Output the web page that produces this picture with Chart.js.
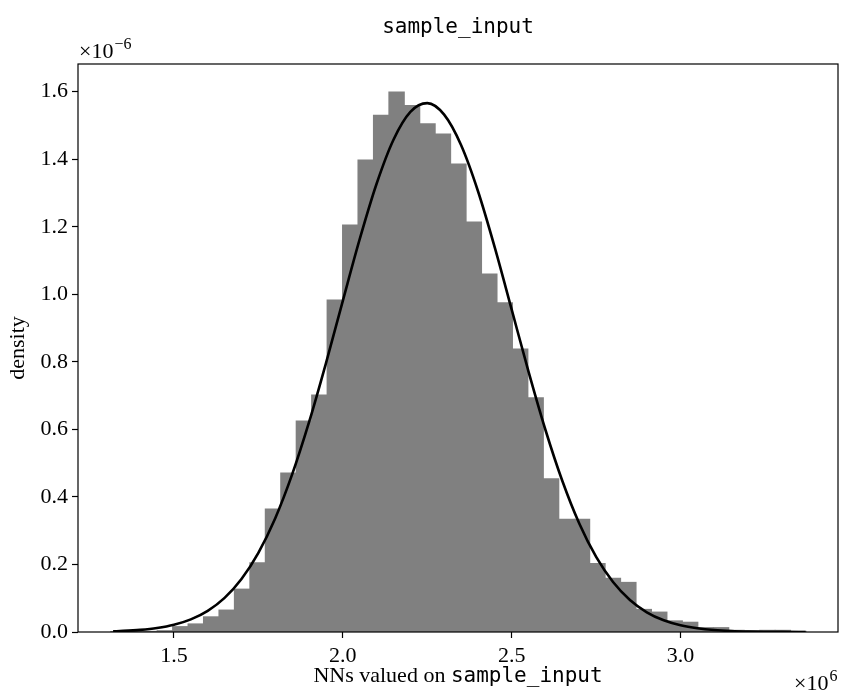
<!DOCTYPE html>
<html lang="en">
  <head>
    <meta charset="UTF-8" />
    <title>sample_input</title>
    <script src="https://cdn.jsdelivr.net/npm/chart.js"></script>
    <style>
      * {
        margin: 0;
        padding: 0;
        box-sizing: border-box;
      }

      body {
        background: #fff;
      }

      canvas {
        display: block;
      }
    </style>
  </head>
  <body>
    <canvas id="histChart" width="842" height="695"></canvas>

    <script>
      // histogram bins (x in units of 1e6, density in units of 1e-6)
      const binCenters = [
        1.3359, 1.3816, 1.4274, 1.4731, 1.5189, 1.5646, 1.6103, 1.6561, 1.7018,
        1.7476, 1.7933, 1.839, 1.8848, 1.9305, 1.9763, 2.022, 2.0677, 2.1135,
        2.1592, 2.205, 2.2507, 2.2964, 2.3422, 2.3879, 2.4337, 2.4794, 2.5251,
        2.5709, 2.6166, 2.6624, 2.7081, 2.7538, 2.7996, 2.8453, 2.8911, 2.9368,
        2.9825, 3.0283, 3.074, 3.1198, 3.1655, 3.2112, 3.257, 3.3027, 3.3485,
      ];
      const binDensity = [
        0.001, 0.001, 0.002, 0.004, 0.016, 0.024, 0.045, 0.065, 0.127, 0.205,
        0.364, 0.471, 0.625, 0.702, 0.983, 1.205, 1.398, 1.53, 1.599, 1.559,
        1.505, 1.475, 1.386, 1.214, 1.06, 0.975, 0.838, 0.694, 0.454, 0.334,
        0.334, 0.203, 0.159, 0.147, 0.067, 0.059, 0.033, 0.029, 0.013, 0.013,
        0.005, 0.004, 0.005, 0.005, 0.002,
      ];

      // fitted normal density
      const fitX = [
        1.32, 1.35, 1.4, 1.45, 1.5, 1.55, 1.6, 1.65, 1.7, 1.75, 1.8, 1.85, 1.9,
        1.95, 2.0, 2.05, 2.1, 2.15, 2.2, 2.25, 2.3, 2.35, 2.4, 2.45, 2.5, 2.55,
        2.6, 2.65, 2.7, 2.75, 2.8, 2.85, 2.9, 2.95, 3.0, 3.05, 3.1, 3.15, 3.2,
        3.25, 3.3, 3.35, 3.37,
      ];
      const fitY = [
        0.0021, 0.0032, 0.0063, 0.0118, 0.0214, 0.0374, 0.0627, 0.1011, 0.157,
        0.2346, 0.337, 0.4667, 0.6213, 0.7957, 0.9808, 1.1632, 1.3273, 1.4577,
        1.5401, 1.566, 1.5319, 1.442, 1.306, 1.1383, 0.9546, 0.7703, 0.5982,
        0.447, 0.3212, 0.2222, 0.148, 0.0948, 0.0584, 0.0346, 0.0198, 0.0109,
        0.0057, 0.0029, 0.0014, 0.0007, 0.0003, 0.0001, 0.0001,
      ];

      const xTicks = [1.5, 2.0, 2.5, 3.0];
      const yTicks = [0, 0.2, 0.4, 0.6, 0.8, 1.0, 1.2, 1.4, 1.6];

      const serif = '"Liberation Serif", serif';
      const mono = '"DejaVu Sans Mono", monospace';

      // frame, title, axis labels and offset text
      const decorations = {
        id: "decorations",
        afterDatasetsDraw(chart) {
          const { ctx, chartArea: a } = chart;
          const cx = (a.left + a.right) / 2;
          ctx.save();
          ctx.strokeStyle = "#000";
          ctx.lineWidth = 1.2;
          ctx.strokeRect(a.left, a.top, a.right - a.left, a.bottom - a.top);

          ctx.fillStyle = "#000";
          ctx.textBaseline = "alphabetic";

          ctx.font = "21px " + mono;
          ctx.textAlign = "center";
          ctx.fillText("sample_input", cx, 33);

          // x label: roman text followed by typewriter name
          const pre = "NNs valued on ";
          const name = "sample_input";
          ctx.font = "22px " + serif;
          const w1 = ctx.measureText(pre).width;
          ctx.font = "21px " + mono;
          const w2 = ctx.measureText(name).width;
          let x0 = cx - (w1 + w2) / 2;
          ctx.textAlign = "left";
          ctx.font = "22px " + serif;
          ctx.fillText(pre, x0, 682);
          ctx.font = "21px " + mono;
          ctx.fillText(name, x0 + w1, 682);

          // y label
          ctx.save();
          ctx.translate(24, (a.top + a.bottom) / 2);
          ctx.rotate(-Math.PI / 2);
          ctx.textAlign = "center";
          ctx.font = "22px " + serif;
          ctx.fillText("density", 0, 0);
          ctx.restore();

          // offset text
          ctx.textAlign = "left";
          ctx.font = "22px " + serif;
          ctx.fillText("\u00d710", 79, 58);
          let w = ctx.measureText("\u00d710").width;
          ctx.font = "16px " + serif;
          ctx.fillText("\u22126", 79 + w + 1, 49);

          ctx.font = "22px " + serif;
          ctx.fillText("\u00d710", 794, 690);
          w = ctx.measureText("\u00d710").width;
          ctx.font = "16px " + serif;
          ctx.fillText("6", 794 + w + 1, 681);
          ctx.restore();
        },
      };

      const ctx = document.getElementById("histChart").getContext("2d");
      new Chart(ctx, {
        type: "bar",
        data: {
          datasets: [
            {
              type: "line",
              data: fitX.map((x, i) => ({ x: x, y: fitY[i] })),
              borderColor: "#000",
              borderWidth: 2.6,
              pointRadius: 0,
              cubicInterpolationMode: "monotone",
              fill: false,
              order: 0,
            },
            {
              type: "bar",
              data: binCenters.map((x, i) => ({ x: x, y: binDensity[i] })),
              backgroundColor: "#808080",
              borderWidth: 0,
              inflateAmount: 0.5,
              barPercentage: 1,
              categoryPercentage: 1,
              order: 1,
            },
          ],
        },
        options: {
          responsive: false,
          animation: false,
          events: [],
          layout: {
            padding: { top: 64, right: 4, left: 0, bottom: 0 },
          },
          plugins: {
            legend: { display: false },
            tooltip: { enabled: false },
          },
          scales: {
            x: {
              type: "linear",
              min: 1.216,
              max: 3.466,
              offset: false,
              afterBuildTicks: (scale) => {
                scale.ticks = xTicks.map((v) => ({ value: v }));
              },
              afterFit: (scale) => {
                scale.height = 63;
              },
              border: { display: false },
              grid: {
                offset: false,
                drawOnChartArea: false,
                drawTicks: true,
                tickLength: 6,
                tickWidth: 1.2,
                tickColor: "#000",
              },
              ticks: {
                color: "#000",
                padding: 5,
                maxRotation: 0,
                font: { family: serif, size: 22 },
                callback: (v) => v.toFixed(1),
              },
            },
            y: {
              min: 0,
              max: 1.682,
              afterBuildTicks: (scale) => {
                scale.ticks = yTicks.map((v) => ({ value: v }));
              },
              afterFit: (scale) => {
                scale.width = 78;
              },
              border: { display: false },
              grid: {
                drawOnChartArea: false,
                drawTicks: true,
                tickLength: 6,
                tickWidth: 1.2,
                tickColor: "#000",
              },
              ticks: {
                color: "#000",
                padding: 4,
                font: { family: serif, size: 22 },
                callback: (v) => v.toFixed(1),
              },
            },
          },
        },
        plugins: [decorations],
      });
    </script>
  </body>
</html>
